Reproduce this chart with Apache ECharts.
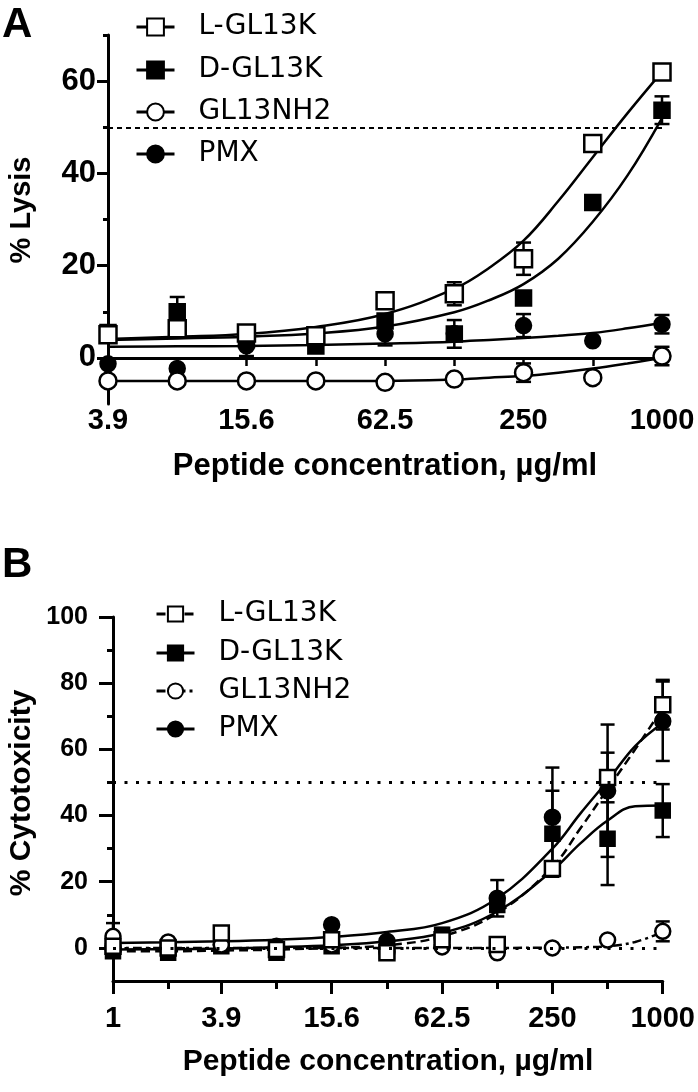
<!DOCTYPE html>
<html><head><meta charset="utf-8">
<script src="https://cdn.jsdelivr.net/npm/echarts@6/dist/echarts.min.js"></script>
<style>html,body{margin:0;padding:0;background:#fff}#c{width:698px;height:1092px}</style>
</head><body><div id="c"></div><script>
// ---------- Panel A: % Lysis ----------
const concA = [3.9, 7.8, 15.6, 31.25, 62.5, 125, 250, 500, 1000];
const xTickLabelsA = [3.9, 15.6, 62.5, 250, 1000];
const L_A   = [5.0, 6.3, 5.4, 4.8, 12.4, 13.9, 21.5, 46.5, 62.0];
const L_Ae  = [0, 0, 0, 0, 0, 2.5, 3.5, 0, 1.5];
const D_A   = [5.5, 10.0, 4.0, 2.6, 8.0, 5.2, 13.0, 33.7, 53.7];
const D_Ae  = [0, 3.2, 0, 0, 0, 3.0, 0, 0, 3.0];
const NH_A  = [-5.0, -5.0, -5.0, -5.0, -5.3, -4.6, -3.2, -4.3, 0.4];
const NH_Ae = [0, 0, 0, 0, 0, 0, 2.0, 0, 2.0];
const PMX_A = [-1.3, -2.3, 2.6, 3.0, 5.2, 5.3, 7.0, 3.7, 7.3];
const PMX_Ae= [0, 0, 2.2, 0, 2.5, 0, 2.5, 0, 2.0];
// fitted curves
const fitXA   = [3.9, 7.8, 15.6, 31.25, 62.5, 125, 177, 250, 354, 500, 707, 1000];
const fitL_A  = [4.1, 4.6, 5.2, 6.7, 9.5, 15.0, 19.5, 25.4, 34.0, 43.5, 53.0, 62.0];
const fitD_A  = [3.9, 4.2, 4.6, 5.3, 6.8, 9.9, 12.5, 16.0, 21.5, 29.5, 39.5, 52.0];
const fitPMX_A= [2.4, 2.5, 2.6, 2.8, 3.1, 3.5, 3.9, 4.3, 4.8, 5.4, 6.4, 7.6];
const fitNH_A = [-5.0, -5.0, -5.0, -5.0, -5.0, -4.7, -4.3, -3.9, -3.2, -2.3, -1.2, 0.0];

// ---------- Panel B: % Cytotoxicity ----------
const concB = [1, 2, 3.9, 7.8, 15.6, 31.25, 62.5, 125, 250, 500, 1000];
const xTickLabelsB = [1, 3.9, 15.6, 62.5, 250, 1000];
const L_B   = [0.5, 0.0, 4.5, -0.5, 2.5, -1.5, 2.5, 1.0, 24.0, 51.5, 73.5];
const L_Be  = [0, 0, 0, 0, 0, 0, 0, 0, 2.0, 7.5, 7.5];
const D_B   = [-1.0, -1.5, 0.5, -1.5, 0.5, -1.0, 4.0, 13.0, 34.5, 33.0, 41.5];
const D_Be  = [0, 0, 0, 0, 0, 0, 2.0, 0, 13.0, 14.0, 8.0];
const PMX_B = [0.0, 0.5, 1.0, 0.5, 7.0, 2.0, 3.0, 15.0, 39.5, 47.5, 68.5];
const PMX_Be= [0, 0, 0, 0, 0, 0, 0, 5.5, 15.0, 20.0, 12.0];
const NH_B  = [3.5, 1.8, 0.9, -0.6, 0.9, -1.2, 0.3, -1.5, 0.0, 2.4, 5.0];
const NH_Be = [4.0, 0, 0, 0, 0, 0, 0, 0, 0, 0, 3.0];
const fitXB    = [1, 2, 3.9, 7.8, 15.6, 31.25, 62.5, 125, 250, 354, 500, 707, 1000];
const fitPMX_B = [1.5, 1.7, 2.0, 2.5, 3.3, 4.8, 7.5, 15.0, 30.0, 40.5, 50.5, 61.0, 68.0];
const fitD_B   = [-0.5, -0.4, -0.2, 0.2, 0.8, 2.0, 4.5, 11.0, 23.4, 31.5, 38.5, 42.8, 43.0];
const fitL_B   = [-1.0, -1.0, -0.8, -0.5, 0.0, 0.8, 3.5, 10.5, 24.5, 36.0, 48.0, 60.0, 72.5];
const fitNH_B  = [0.0, 0.0, 0.0, 0.0, 0.0, 0.0, 0.0, 0.0, 0.1, 0.2, 0.5, 1.8, 4.8];

const names = ['L-GL13K', 'D-GL13K', 'GL13NH2', 'PMX'];

function pts(x, y) { return x.map((v, i) => [v, y[i]]); }
function errs(x, y, e) { return x.map((v, i) => e[i] ? [v, y[i] - e[i], y[i] + e[i]] : null).filter(Boolean); }

const BLACK = '#000';
function errSeries(x, y, e, gi, cap) {
  return {
    type: 'custom', xAxisIndex: gi * 2, yAxisIndex: gi * 2, z: 3, silent: true,
    data: errs(x, y, e), encode: { x: 0, y: [1, 2] },
    renderItem: function (params, api) {
      const xv = api.value(0), lo = api.value(1), hi = api.value(2);
      const p1 = api.coord([xv, hi]), p2 = api.coord([xv, lo]);
      const st = { stroke: BLACK, lineWidth: 2.5 };
      return { type: 'group', children: [
        { type: 'line', shape: { x1: p1[0], y1: p1[1], x2: p2[0], y2: p2[1] }, style: st },
        { type: 'line', shape: { x1: p1[0] - cap / 2, y1: p1[1], x2: p1[0] + cap / 2, y2: p1[1] }, style: st },
        { type: 'line', shape: { x1: p2[0] - cap / 2, y1: p2[1], x2: p2[0] + cap / 2, y2: p2[1] }, style: st }
      ]};
    }
  };
}
function curve(x, y, gi, type) {
  return { type: 'line', xAxisIndex: gi * 2, yAxisIndex: gi * 2, data: pts(x, y), smooth: 0.4,
    symbol: 'none', silent: true, z: 2, lineStyle: { color: BLACK, width: 2.5, type: type || 'solid' } };
}
function markers(name, x, y, gi, symbol, size, filled) {
  return { type: 'line', name: name, xAxisIndex: gi * 2, yAxisIndex: gi * 2, data: pts(x, y),
    symbol: symbol, symbolSize: size, showAllSymbol: true, silent: true, z: 4,
    lineStyle: { opacity: 0, width: 0 },
    itemStyle: { color: filled ? BLACK : '#fff', borderColor: BLACK, borderWidth: 2.5, opacity: 1 } };
}

const series = [];
// Panel A
series.push(curve(fitXA, fitL_A, 0));
series.push(curve(fitXA, fitD_A, 0));
series.push(curve(fitXA, fitPMX_A, 0));
series.push(Object.assign(curve(fitXA, fitNH_A, 0), {
  markLine: { silent: true, symbol: 'none', label: { show: false },
    lineStyle: { color: BLACK, width: 2, type: [5, 4] }, data: [{ yAxis: 50 }] } }));
series.push(errSeries(concA, L_A, L_Ae, 0, 15));
series.push(errSeries(concA, D_A, D_Ae, 0, 15));
series.push(errSeries(concA, NH_A, NH_Ae, 0, 15));
series.push(errSeries(concA, PMX_A, PMX_Ae, 0, 15));
series.push(markers('D-GL13K', concA, D_A, 0, 'rect', 15, true));
series.push(markers('PMX', concA, PMX_A, 0, 'circle', 15, true));
series.push(markers('GL13NH2', concA, NH_A, 0, 'circle', 17, false));
series.push(markers('L-GL13K', concA, L_A, 0, 'rect', 17, false));
// Panel B (names carry a trailing space to keep legends separate)
series.push(curve(fitXB, fitPMX_B, 1));
series.push(curve(fitXB, fitD_B, 1));
series.push(curve(fitXB, fitL_B, 1, [9, 5]));
series.push(Object.assign(curve(fitXB, fitNH_B, 1, [9, 4, 3, 4]), {
  markLine: { silent: true, symbol: 'none', label: { show: false },
    lineStyle: { color: BLACK, width: 3, type: [3, 8.5] }, data: [{ yAxis: 50 }, { yAxis: 0 }] } }));
series.push(errSeries(concB, L_B, L_Be, 1, 14));
series.push(errSeries(concB, D_B, D_Be, 1, 14));
series.push(errSeries(concB, NH_B, NH_Be, 1, 14));
series.push(errSeries(concB, PMX_B, PMX_Be, 1, 14));
series.push(markers('D-GL13K ', concB, D_B, 1, 'rect', 14, true));
series.push(markers('PMX ', concB, PMX_B, 1, 'circle', 15, true));
series.push(markers('GL13NH2 ', concB, NH_B, 1, 'circle', 15, false));
series.push(markers('L-GL13K ', concB, L_B, 1, 'rect', 15, false));

const legendTypesB = [[9, 5], 'solid', [9, 4, 3, 4], 'solid'];
const legends = [];
const rowsA = [30, 73, 115, 157];
const rowsB = [617, 656, 694, 732];
const legendText = { fontFamily: 'DejaVu Sans', fontSize: 28, color: BLACK, rich: { g: { width: 19 } } };
names.forEach((n, i) => {
  legends.push({ data: [{ name: n, lineStyle: { color: BLACK, width: 3, opacity: 1, type: 'solid' } }],
    left: 135, top: rowsA[i] - 17, padding: 0,
    itemWidth: 38, itemHeight: 21, selectedMode: false,
    formatter: s => '{g|}' + s.trim(), textStyle: legendText });
  legends.push({ data: [{ name: n + ' ', lineStyle: { color: BLACK, width: 3, opacity: 1, type: legendTypesB[i] } }],
    left: 155, top: rowsB[i] - 17, padding: 0,
    itemWidth: 38, itemHeight: 19, selectedMode: false,
    formatter: s => '{g|}' + s.trim(), textStyle: legendText });
});

const numFmt = v => String(+(+v).toFixed(2));
const tickFontX = { fontFamily: 'Liberation Sans', fontWeight: 'bold', fontSize: 29, color: BLACK };

const option = {
  animation: false,
  backgroundColor: '#fff',
  grid: [
    { left: 108, right: 36, top: 35, bottom: 688, containLabel: false },
    { left: 113, right: 35, top: 617, bottom: 111, containLabel: false }
  ],
  xAxis: [
    { type: 'log', gridIndex: 0, min: 3.9, max: 1000, position: 'bottom',
      axisLine: { show: false, onZero: false }, axisTick: { show: false }, splitLine: { show: false },
      axisLabel: { customValues: xTickLabelsA, formatter: numFmt, margin: 2, ...tickFontX } },
    { type: 'log', gridIndex: 0, min: 3.9, max: 1000, position: 'bottom',
      axisLine: { show: true, onZero: true, lineStyle: { color: BLACK, width: 3 } },
      axisTick: { show: true, customValues: concA, length: 8, lineStyle: { color: BLACK, width: 2.5 } },
      axisLabel: { show: false }, splitLine: { show: false } },
    { type: 'log', gridIndex: 1, min: 1, max: 1000, position: 'bottom',
      axisLine: { show: true, onZero: false, lineStyle: { color: BLACK, width: 3 } },
      axisTick: { show: true, customValues: xTickLabelsB, length: 13, lineStyle: { color: BLACK, width: 3 } },
      axisLabel: { customValues: xTickLabelsB, formatter: numFmt, margin: 23, ...tickFontX }, splitLine: { show: false } },
    { type: 'log', gridIndex: 1, min: 1, max: 1000, position: 'bottom',
      axisLine: { show: false, onZero: false },
      axisTick: { show: true, customValues: concB, length: 8, lineStyle: { color: BLACK, width: 3 } },
      axisLabel: { show: false }, splitLine: { show: false } }
  ],
  yAxis: [
    { type: 'value', gridIndex: 0, min: -10, max: 70, position: 'left',
      axisLine: { show: true, lineStyle: { color: BLACK, width: 3 } },
      axisTick: { show: true, customValues: [0, 20, 40, 60], length: 11, lineStyle: { color: BLACK, width: 3 } },
      axisLabel: { customValues: [0, 20, 40, 60], margin: 12, fontFamily: 'Liberation Sans', fontWeight: 'bold', fontSize: 31, color: BLACK },
      splitLine: { show: false } },
    { type: 'value', gridIndex: 0, min: -10, max: 70, position: 'left',
      axisLine: { show: false },
      axisTick: { show: true, customValues: [10, 30, 50, 70], length: 5, lineStyle: { color: BLACK, width: 3 } },
      axisLabel: { show: false }, splitLine: { show: false } },
    { type: 'value', gridIndex: 1, min: -10, max: 100, position: 'left',
      axisLine: { show: true, lineStyle: { color: BLACK, width: 3 } },
      axisTick: { show: true, customValues: [0, 20, 40, 60, 80, 100], length: 14, lineStyle: { color: BLACK, width: 3 } },
      axisLabel: { customValues: [0, 20, 40, 60, 80, 100], margin: 25, fontFamily: 'Liberation Sans', fontWeight: 'bold', fontSize: 25, color: BLACK },
      splitLine: { show: false } },
    { type: 'value', gridIndex: 1, min: -10, max: 100, position: 'left',
      axisLine: { show: false },
      axisTick: { show: true, customValues: [10, 30, 50, 70, 90], length: 6, lineStyle: { color: BLACK, width: 3 } },
      axisLabel: { show: false }, splitLine: { show: false } }
  ],
  legend: legends,
  graphic: [
    { type: 'text', left: 2, top: 4, style: { text: 'A', fontFamily: 'Liberation Sans', fontWeight: 'bold', fontSize: 42, fill: BLACK } },
    { type: 'text', left: 2, top: 544, style: { text: 'B', fontFamily: 'Liberation Sans', fontWeight: 'bold', fontSize: 42, fill: BLACK } },
    { type: 'text', x: 22, y: 210, rotation: Math.PI / 2,
      style: { text: '% Lysis', fontFamily: 'Liberation Sans', fontWeight: 'bold', fontSize: 29, fill: BLACK, align: 'center', verticalAlign: 'middle' } },
    { type: 'text', x: 22, y: 793, rotation: Math.PI / 2,
      style: { text: '% Cytotoxicity', fontFamily: 'Liberation Sans', fontWeight: 'bold', fontSize: 30, fill: BLACK, align: 'center', verticalAlign: 'middle' } },
    { type: 'text', x: 385, y: 466,
      style: { text: 'Peptide concentration, µg/ml', fontFamily: 'Liberation Sans', fontWeight: 'bold', fontSize: 31, fill: BLACK, align: 'center', verticalAlign: 'middle' } },
    { type: 'text', x: 388, y: 1062,
      style: { text: 'Peptide concentration, µg/ml', fontFamily: 'Liberation Sans', fontWeight: 'bold', fontSize: 30, fill: BLACK, align: 'center', verticalAlign: 'middle' } }
  ],
  series: series
};
const chart = echarts.init(document.getElementById('c'), null, { renderer: 'canvas' });
chart.setOption(option);
</script></body></html>
